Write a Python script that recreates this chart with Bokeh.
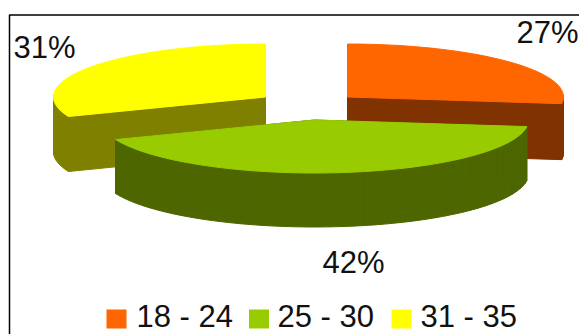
import math

from bokeh.core.properties import value
from bokeh.embed import file_html
from bokeh.models import Range1d
from bokeh.plotting import figure
from bokeh.resources import INLINE

# Age groups and their share of respondents
categories = ["18 - 24", "25 - 30", "31 - 35"]
shares = [27, 42, 31]
face_colors = ["#FF6600", "#99CC00", "#FFFF00"]
wall_colors = ["#803300", "#4D6600", "#808000"]

WIDTH, HEIGHT = 579, 334
FONT = value("Liberation Sans")

# Pie projection, in page pixels: apex x, apex y, horizontal radius and thickness of each slice
RY = 53
SLICE_GEOMETRY = {
    "18 - 24": (347, 96.5, 216, 56),
    "25 - 30": (314, 119.5, 214, 54),
    "31 - 35": (265, 96.5, 212, 55),
}
DRAW_ORDER = ["31 - 35", "18 - 24", "25 - 30"]

p = figure(
    width=WIDTH, height=HEIGHT, output_backend="svg", toolbar_location=None,
    x_range=Range1d(0, WIDTH), y_range=Range1d(HEIGHT, 0),
    x_axis_type=None, y_axis_type=None, min_border=0, outline_line_color=None,
)
p.grid.visible = False


def slice_outline(geometry, start_share, share):
    """Apex plus elliptical arc of a slice, clockwise from twelve o'clock."""
    ax, ay, rx, _ = geometry
    steps = max(4, round(share * 1.2))
    points = [(ax, ay)]
    for i in range(steps + 1):
        angle = 2 * math.pi * (start_share + share * i / steps) / 100
        points.append((ax + rx * math.sin(angle), ay - RY * math.cos(angle)))
    return points


starts = {}
running = 0
for name, share in zip(categories, shares):
    starts[name] = running
    running += share

for name in DRAW_ORDER:
    i = categories.index(name)
    geometry = SLICE_GEOMETRY[name]
    apex_y, depth = geometry[1], geometry[3]
    outline = slice_outline(geometry, starts[name], shares[i])
    closed = outline + outline[:1]
    # The wall sweeps the near edges downwards; edges behind the apex stay hidden
    edges = [(a, b) for a, b in zip(closed, closed[1:]) if max(a[1], b[1]) > apex_y]
    xs = [[a[0], b[0], b[0], a[0]] for a, b in edges]
    ys = [[a[1], b[1], b[1] + depth, a[1] + depth] for a, b in edges]
    p.patches(xs, ys, fill_color=wall_colors[i], line_color=wall_colors[i], line_width=1)
    p.patch([q[0] for q in outline], [q[1] for q in outline],
            fill_color=face_colors[i], line_color=face_colors[i], line_width=1)

# Chart frame: only the top and left edges fall inside the page
p.line([9, 9, WIDTH], [HEIGHT, 14.5, 14.5], line_color="#000000", line_width=1.5)

# Percentage labels, placed by their vertical centres
label_x = [578, 353, 13]
label_y = [32, 262, 47]
label_align = ["right", "center", "left"]
p.text(label_x, label_y, text=[f"{s}%" for s in shares], text_font=FONT,
       text_font_size="31px", text_color="#111111", text_align=label_align,
       text_baseline="middle")

# Legend row
swatch_x = [116, 258.5, 401]
text_x = [136, 277, 420]
p.rect(swatch_x, [318.5] * 3, width=20, height=19, fill_color=face_colors, line_color=None)
p.text(text_x, [316] * 3, text=categories, text_font=FONT, text_font_size="31px",
       text_color="#111111", text_baseline="middle")

open("out.html", "w").write(file_html(p, INLINE))
